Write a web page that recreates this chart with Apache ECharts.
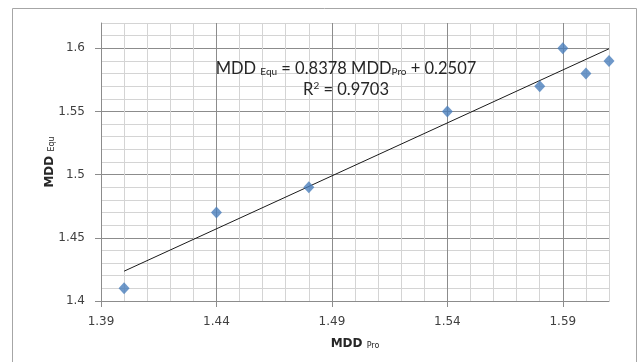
<!DOCTYPE html>
<html>
<head>
<meta charset="utf-8">
<script src="https://cdn.jsdelivr.net/npm/echarts@6/dist/echarts.min.js"></script>
<style>
  html, body { margin: 0; padding: 0; background: #fff; }
  #chart { width: 641px; height: 362px; }
</style>
</head>
<body>
<div id="chart"></div>
<script>
// 数据点 (MDD Pro, MDD Equ)
const mddPro = [1.40, 1.44, 1.48, 1.54, 1.58, 1.59, 1.60, 1.61]
const mddEqu = [1.41, 1.47, 1.49, 1.55, 1.57, 1.60, 1.58, 1.59]
// 趋势线两端
const trendX = [1.40, 1.61]
const trendY = [1.4236, 1.5996]
// 刻度标签
const xTicks = [1.39, 1.44, 1.49, 1.54, 1.59]
const yTicks = [1.4, 1.45, 1.5, 1.55, 1.6]

const chart = echarts.init(document.getElementById('chart'))

const gridColors = ['#8c8c8c', '#d4d4d4', '#d4d4d4', '#d4d4d4', '#d4d4d4']
const labelStyle = { color: '#404040', fontSize: 12, fontFamily: 'DejaVu Sans' }
const nameRich = {
  b: { fontSize: 12, fontWeight: 'bold', fontFamily: 'DejaVu Sans', color: '#262626' },
  s: { fontSize: 8, fontFamily: 'DejaVu Sans', color: '#262626', padding: [4, 0, 0, 0] }
}

const option = {
  animation: false,
  graphic: [
    {
      type: 'rect',
      shape: { x: 12.5, y: 8.5, width: 624, height: 370 },
      style: { fill: 'none', stroke: '#a6a6a6', lineWidth: 1 },
      z: -1
    },
    {
      type: 'text',
      x: 346,
      y: 58,
      style: {
        text: '{n|MDD }{s|Equ}{n| = 0.8378 MDD}{s|Pro}{n| + 0.2507}\n{n|R}{sup|2}{n| = 0.9703}',
        align: 'center',
        verticalAlign: 'top',
        fill: '#262626',
        rich: {
          n: { fontSize: 16.5, fontFamily: 'Lato', lineHeight: 21, fill: '#262626' },
          s: { fontSize: 10, fontFamily: 'Lato', lineHeight: 21, padding: [7, 0, 0, 0], fill: '#262626' },
          sup: { fontSize: 10, fontFamily: 'Lato', lineHeight: 21, padding: [0, 0, 7, 0], fill: '#262626' }
        }
      },
      z: 10
    }
  ],
  grid: { left: 101, right: 32, top: 23, bottom: 61 },
  xAxis: [
    {
      type: 'value', min: 1.39, max: 1.61, interval: 0.01,
      axisLine: { show: false }, axisTick: { show: false }, axisLabel: { show: false },
      splitLine: { show: true, showMinLine: true, showMaxLine: true, lineStyle: { color: gridColors, width: 1 } }
    },
    {
      type: 'value', min: 1.39, max: 1.61, position: 'bottom',
      axisLine: { show: true, lineStyle: { color: '#8c8c8c' } },
      axisTick: { show: true, length: 6, customValues: xTicks, lineStyle: { color: '#8c8c8c' } },
      axisLabel: { show: true, customValues: xTicks, margin: 15, ...labelStyle, formatter: (v) => v.toFixed(2) },
      splitLine: { show: false },
      name: '{b|MDD }{s|Pro}',
      nameLocation: 'middle',
      nameGap: 37,
      nameMoveOverlap: false,
      nameTextStyle: { rich: nameRich }
    }
  ],
  yAxis: [
    {
      type: 'value', min: 1.4, max: 1.62, interval: 0.01,
      axisLine: { show: false }, axisTick: { show: false }, axisLabel: { show: false },
      splitLine: { show: true, showMinLine: true, showMaxLine: true, lineStyle: { color: gridColors, width: 1 } }
    },
    {
      type: 'value', min: 1.4, max: 1.62, position: 'left',
      axisLine: { show: true, lineStyle: { color: '#8c8c8c' } },
      axisTick: { show: true, length: 6, customValues: yTicks, lineStyle: { color: '#8c8c8c' } },
      axisLabel: { show: true, customValues: yTicks, margin: 16, ...labelStyle },
      splitLine: { show: false },
      name: '{b|MDD }{s|Equ}',
      nameLocation: 'middle',
      nameGap: 45,
      nameMoveOverlap: false,
      nameTextStyle: { rich: nameRich }
    }
  ],
  series: [
    {
      name: 'trend',
      type: 'line',
      xAxisIndex: 0, yAxisIndex: 0,
      data: trendX.map((x, i) => [x, trendY[i]]),
      showSymbol: false,
      lineStyle: { color: '#1a1a1a', width: 1 },
      z: 2
    },
    {
      name: 'MDD',
      type: 'scatter',
      xAxisIndex: 0, yAxisIndex: 0,
      data: mddPro.map((x, i) => [x, mddEqu[i]]),
      symbol: 'diamond',
      symbolSize: [11, 12],
      itemStyle: { color: '#4a7ebb' },
      z: 3
    }
  ]
}

chart.setOption(option)
</script>
</body>
</html>
